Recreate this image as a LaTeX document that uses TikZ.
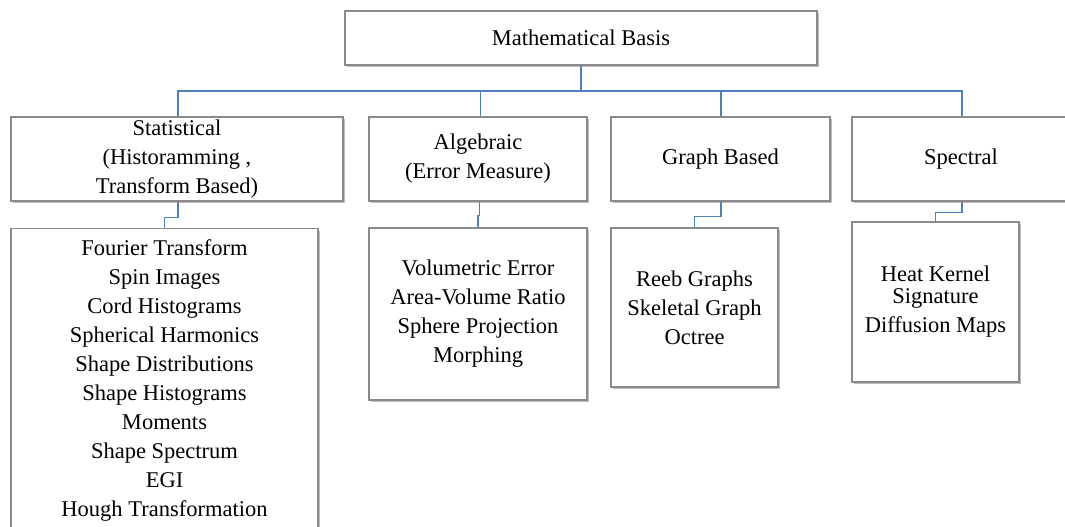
\documentclass[tikz,border=0pt]{standalone}
\usepackage{fontspec}
\setmainfont{Liberation Serif}
\usetikzlibrary{shadows}
\definecolor{boxline}{HTML}{8A8A8A}
\definecolor{linkblue}{HTML}{4F81BD}
\tikzset{
  box/.style={draw=boxline, line width=1.1pt, fill=white, rectangle,
    align=center, inner sep=0pt, font=\fontsize{22.5}{29}\selectfont,
    drop shadow={shadow xshift=1.5pt, shadow yshift=-2pt, fill=black, opacity=0.25}},
  conn/.style={draw=linkblue, line width=1.8pt}
}
\begin{document}
\begin{tikzpicture}[x=1pt, y=-1pt]
\useasboundingbox (0,0) rectangle (1065,527);

% root
\node[box, minimum width=472pt, minimum height=54pt] (top) at (581,38) {Mathematical Basis};

% categories
\node[box, minimum width=332pt, minimum height=84pt] (stat) at (177,159)
  {Statistical\\(Historamming ,\\Transform Based)};
\node[box, minimum width=218pt, minimum height=84pt] (alg) at (478,159)
  {Algebraic\\(Error Measure)};
\node[box, minimum width=219pt, minimum height=84pt] (graph) at (720.5,159)
  {Graph Based};
\node[box, minimum width=218pt, minimum height=84pt] (spec) at (961,159)
  {Spectral};

% method lists
\node[box, minimum width=307pt, anchor=north, inner ysep=11.5pt] (statc) at (164.5,228)
  {Fourier Transform\\Spin Images\\Cord Histograms\\Spherical Harmonics\\Shape Distributions\\Shape Histograms\\Moments\\Shape Spectrum\\EGI\\Hough Transformation};
\node[box, minimum width=218pt, minimum height=172pt] (algc) at (478,314)
  {Volumetric Error\\Area-Volume Ratio\\Sphere Projection\\Morphing};
\node[box, minimum width=167pt, minimum height=159pt] (graphc) at (694.5,307.5)
  {Reeb Graphs\\Skeletal Graph\\Octree};
\node[box, minimum width=167pt, minimum height=160pt] (specc) at (935.5,302)
  {Heat Kernel\\[-7pt]Signature\\Diffusion Maps};

% connectors from the root
\coordinate (bus) at (0,91);
\draw[conn] (top.south) -- (top.south |- bus);
\draw[conn] ([xshift=1pt]stat.north) -- ([xshift=1pt]stat.north |- bus) -- ([xshift=1pt]spec.north |- bus) -- ([xshift=1pt]spec.north);
\draw[conn] ([xshift=2.5pt]alg.north) -- ([xshift=2.5pt]alg.north |- bus);
\draw[conn] ([xshift=0.5pt]graph.north) -- ([xshift=0.5pt]graph.north |- bus);

% connectors to the method lists
\draw[conn] ([xshift=1pt]stat.south) -- ++(0,16) -| (statc.north);
\draw[conn] ([xshift=1.5pt]alg.south) -- ++(0,14) -| (algc.north);
\draw[conn] ([xshift=0.5pt]graph.south) -- ++(0,15) -| (graphc.north);
\draw[conn] ([xshift=1pt]spec.south) -- ++(0,11) -| (specc.north);
\end{tikzpicture}
\end{document}
